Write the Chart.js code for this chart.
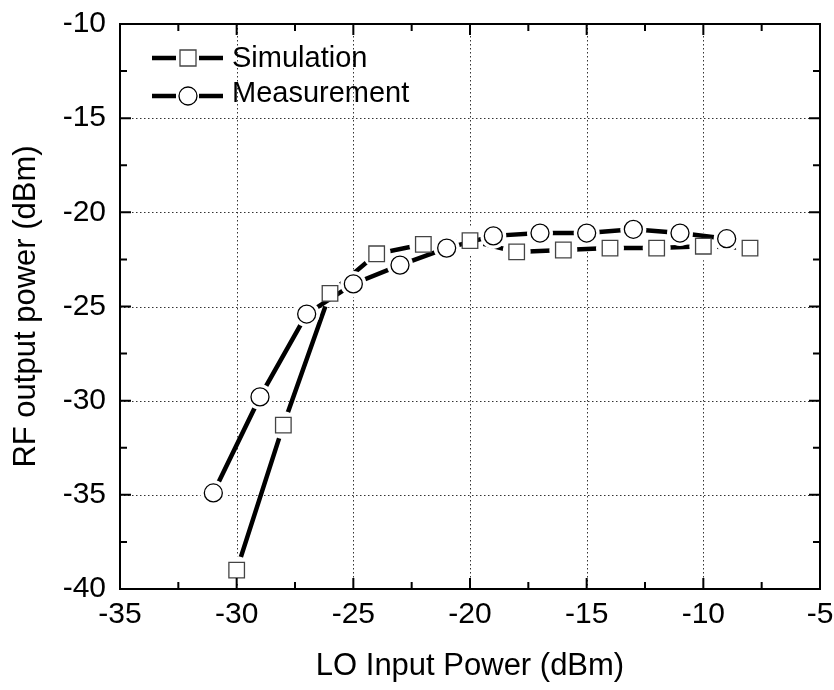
<!DOCTYPE html>
<html>
<head>
<meta charset="utf-8">
<script src="https://cdn.jsdelivr.net/npm/chart.js@4/dist/chart.umd.min.js"></script>
<style>
	html, body { margin: 0; padding: 0; background: #fff; }
	#wrap { width: 834px; height: 690px; }
</style>
</head>
<body>
<div id="wrap"><canvas id="chart" width="834" height="690"></canvas></div>
<script>
var simX = [-30, -28, -26, -24, -22, -20, -18, -16, -14, -12, -10, -8];
var simY = [-39.0, -31.3, -24.3, -22.2, -21.7, -21.5, -22.1, -22.0, -21.9, -21.9, -21.8, -21.9];
var measX = [-31, -29, -27, -25, -23, -21, -19, -17, -15, -13, -11, -9];
var measY = [-34.9, -29.8, -25.4, -23.8, -22.8, -21.9, -21.25, -21.1, -21.1, -20.9, -21.1, -21.4];
var xTicks = [-35, -30, -25, -20, -15, -10, -5];
var yTicks = [-40, -35, -30, -25, -20, -15, -10];
var seriesNames = ['Simulation', 'Measurement'];

var FONT = 'Liberation Sans, Arial, sans-serif';

function pts(xs, ys) {
	return xs.map((x, i) => ({ x: x, y: ys[i] }));
}

// frame, dotted grid and inward ticks on all four sides
var framePlugin = {
	id: 'frame',
	beforeDatasetsDraw: (chart) => {
		var ctx = chart.ctx, a = chart.chartArea;
		var xs = chart.scales.x, ys = chart.scales.y;
		ctx.save();
		ctx.strokeStyle = '#333';
		ctx.lineWidth = 1;
		ctx.setLineDash([1.5, 2.5]);
		xTicks.slice(1, -1).forEach(v => {
			var px = Math.round(xs.getPixelForValue(v)) + 0.5;
			ctx.beginPath(); ctx.moveTo(px, a.top); ctx.lineTo(px, a.bottom); ctx.stroke();
		});
		yTicks.slice(1, -1).forEach(v => {
			var py = Math.round(ys.getPixelForValue(v)) + 0.5;
			ctx.beginPath(); ctx.moveTo(a.left, py); ctx.lineTo(a.right, py); ctx.stroke();
		});
		ctx.restore();
	},
	afterDatasetsDraw: (chart) => {
		var ctx = chart.ctx, a = chart.chartArea;
		var xs = chart.scales.x, ys = chart.scales.y;
		ctx.save();
		ctx.strokeStyle = '#000';
		ctx.lineWidth = 2;
		ctx.strokeRect(a.left, a.top, a.right - a.left, a.bottom - a.top);
		for (var v = -35; v <= -5; v += 2.5) {
			var px = xs.getPixelForValue(v);
			var len = (v % 5 === 0) ? 11 : 7;
			ctx.beginPath();
			ctx.moveTo(px, a.bottom); ctx.lineTo(px, a.bottom - len);
			ctx.moveTo(px, a.top); ctx.lineTo(px, a.top + len);
			ctx.stroke();
		}
		for (var w = -40; w <= -10; w += 2.5) {
			var py = ys.getPixelForValue(w);
			var l2 = (w % 5 === 0) ? 11 : 7;
			ctx.beginPath();
			ctx.moveTo(a.left, py); ctx.lineTo(a.left + l2, py);
			ctx.moveTo(a.right, py); ctx.lineTo(a.right - l2, py);
			ctx.stroke();
		}
		ctx.restore();
	},
	afterDraw: (chart) => {
		// legend: line - marker - line, then label
		var ctx = chart.ctx;
		ctx.save();
		var rows = [{ y: 58, base: 67, style: 'rect' }, { y: 96, base: 102, style: 'circle' }];
		rows.forEach((r, i) => {
			ctx.strokeStyle = '#000';
			ctx.lineWidth = 4.5;
			ctx.beginPath();
			ctx.moveTo(152, r.y); ctx.lineTo(176, r.y);
			ctx.moveTo(199, r.y); ctx.lineTo(223, r.y);
			ctx.stroke();
			ctx.lineWidth = 1.3;
			ctx.fillStyle = '#fff';
			ctx.beginPath();
			if (r.style === 'rect') {
				ctx.strokeStyle = '#444';
				ctx.rect(180, r.y - 8, 16, 16);
			} else {
				ctx.arc(188, r.y, 9, 0, Math.PI * 2);
			}
			ctx.fill(); ctx.stroke();
			ctx.fillStyle = '#000';
			ctx.font = '29px ' + FONT;
			ctx.textBaseline = 'alphabetic';
			ctx.fillText(seriesNames[i], 232, r.base);
		});
		ctx.restore();
	}
};

var context = document.getElementById('chart').getContext('2d');

var chart = new Chart(context, {
	type: 'scatter',
	data: {
		datasets: [
			{
				label: seriesNames[0] + ' marks',
				data: pts(simX, simY),
				showLine: false,
				pointStyle: 'rect',
				pointRadius: 11,
				pointBackgroundColor: '#fff',
				pointBorderColor: '#444',
				pointBorderWidth: 1.3,
				order: 1
			},
			{
				label: seriesNames[1] + ' marks',
				data: pts(measX, measY),
				showLine: false,
				pointStyle: 'circle',
				pointRadius: 9,
				pointBackgroundColor: '#fff',
				pointBorderColor: '#000',
				pointBorderWidth: 1.3,
				order: 1
			},
			{
				label: seriesNames[0],
				data: pts(simX, simY),
				showLine: true,
				borderColor: '#000',
				borderWidth: 4.5,
				pointStyle: 'circle',
				pointRadius: 14,
				pointBackgroundColor: '#fff',
				pointBorderWidth: 0,
				order: 3
			},
			{
				label: seriesNames[1],
				data: pts(measX, measY),
				showLine: true,
				borderColor: '#000',
				borderWidth: 4.5,
				pointStyle: 'circle',
				pointRadius: 13,
				pointBackgroundColor: '#fff',
				pointBorderWidth: 0,
				order: 2
			}
		]
	},
	options: {
		responsive: false,
		animation: false,
		layout: { padding: { top: 11, right: 8, left: 0, bottom: 0 } },
		plugins: {
			legend: { display: false },
			tooltip: { enabled: false }
		},
		scales: {
			x: {
				type: 'linear',
				min: -35,
				max: -5,
				afterBuildTicks: (s) => { s.ticks = xTicks.map(v => ({ value: v })); },
				afterFit: (s) => { s.height = 101; },
				grid: { display: false },
				border: { display: false },
				ticks: {
					color: '#000',
					font: { family: FONT, size: 30 },
					padding: 0,
					maxRotation: 0
				},
				title: {
					display: true,
					text: 'LO Input Power (dBm)',
					color: '#000',
					font: { family: FONT, size: 31 },
					padding: { top: 0, bottom: 5 }
				}
			},
			y: {
				type: 'linear',
				min: -40,
				max: -10,
				afterBuildTicks: (s) => { s.ticks = yTicks.map(v => ({ value: v })); },
				afterFit: (s) => { s.width = 120; },
				grid: { display: false },
				border: { display: false },
				ticks: {
					color: '#000',
					font: { family: FONT, size: 30 },
					padding: 6
				},
				title: {
					display: true,
					text: 'RF output power (dBm)',
					color: '#000',
					font: { family: FONT, size: 31 },
					padding: { top: 8, bottom: 8 }
				}
			}
		}
	},
	plugins: [framePlugin]
});
</script>
</body>
</html>
